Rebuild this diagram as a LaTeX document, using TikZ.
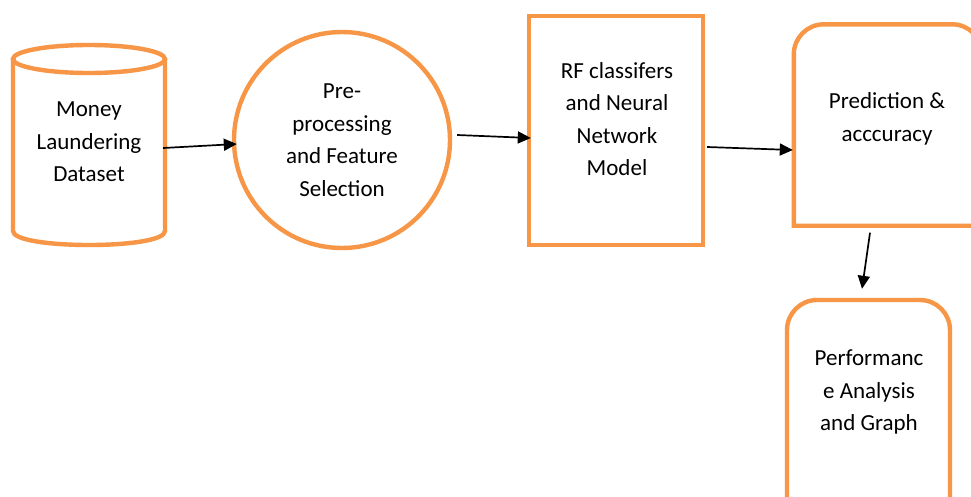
\documentclass[tikz,border=0pt]{standalone}
\usepackage{fontspec}
\setmainfont{Carlito}
\usetikzlibrary{arrows.meta}
\definecolor{boxorange}{RGB}{247,150,70}

\begin{document}
\begin{tikzpicture}[x=1pt,y=-1pt,
  outline/.style={draw=boxorange, line width=4.4pt},
  txt/.style={align=center, font=\fontsize{23}{32.5}\selectfont, inner sep=0pt},
  flow/.style={draw=black, line width=1.7pt, -{Triangle[length=13pt,width=12pt]}}]
\useasboundingbox (0,0) rectangle (971,496);
\clip (0,0) rectangle (971,496);
\fill[white] (0,0) rectangle (971,496);

% data store (cylinder)
\draw[outline] (13,59) -- (13,231) .. controls (13,249.67) and (165,249.67) .. (165,231) -- (165,59);
\draw[outline] (89,59) ellipse [x radius=76pt, y radius=14pt];
\node[txt, minimum width=152pt, minimum height=186pt] (ds) at (89,142) {Money\\Laundering\\Dataset};

% pre-processing stage
\node[outline, circle, minimum size=216pt, inner sep=0pt] (pp) at (342,140) {};
\node[txt] (ppt) at (342,140) {Pre-\\processing\\and Feature\\Selection};

% model stage
\node[outline, rectangle, minimum width=174pt, minimum height=229pt, inner sep=0pt] (rf) at (616,130.5) {};
\node[txt] (rft) at (617,119) {RF classifers\\and Neural\\Network\\Model};

% prediction stage: top corners rounded, bottom corners square
\node[minimum width=188pt, minimum height=201pt, inner sep=0pt] (pa) at (888,125) {};
\draw[outline] (pa.south west) [rounded corners=30pt] -- (pa.north west) -- (pa.north east) [sharp corners] -- (pa.south east) -- cycle;
\node[txt] (pat) at (887,119) {Prediction \&\\acccuracy};

% performance stage
\node[outline, rectangle, rounded corners=30pt, minimum width=163pt, minimum height=240pt, inner sep=0pt] (pg) at (868.5,420) {};
\node[txt] (pgt) at (869,392) {Performanc\\e Analysis\\and Graph};

% flow arrows
\draw[flow] ([shift={(-2,6)}]ds.east) -- ([shift={(5,4)}]pp.west);
\draw[flow] ([shift={(5,-5)}]pp.east) -- ([shift={(4,7.5)}]rf.west);
\draw[flow] ([shift={(2,16.5)}]rf.east) -- ([shift={(-1,25)}]pa.west);
\draw[flow] ([shift={(-18,7)}]pa.south) -- ([shift={(-6.5,-9)}]pg.north);
\end{tikzpicture}
\end{document}
